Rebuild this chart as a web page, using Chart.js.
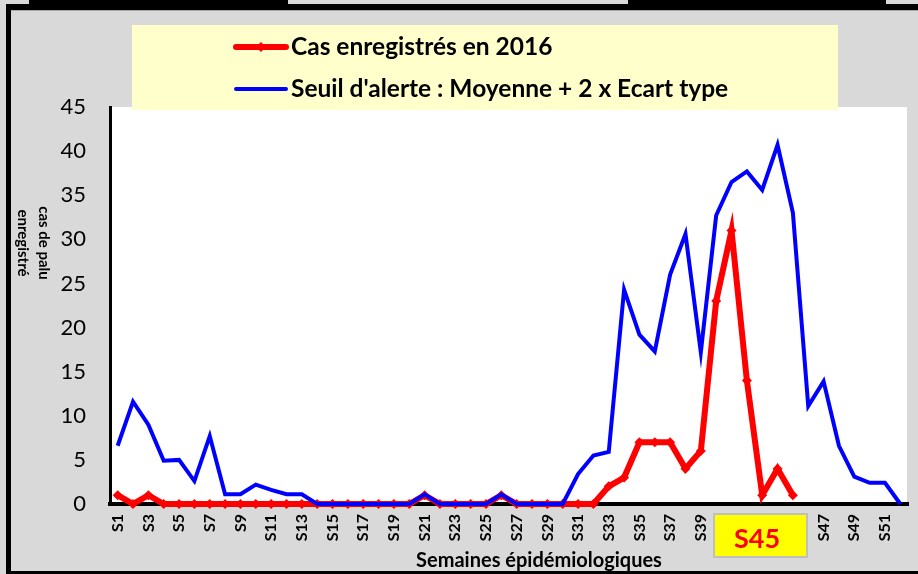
<!DOCTYPE html>
<html>
<head>
<meta charset="utf-8">
<script src="https://cdn.jsdelivr.net/npm/chart.js@4.4.0/dist/chart.umd.min.js"></script>
<style>
    html, body { margin: 0; padding: 0; background: #fff; }
</style>
</head>
<body>
<canvas id="paluChart" width="918" height="574"></canvas>
<script>
// Semaines épidémiologiques
const semaines = ['S1', 'S2', 'S3', 'S4', 'S5', 'S6', 'S7', 'S8', 'S9', 'S10',
    'S11', 'S12', 'S13', 'S14', 'S15', 'S16', 'S17', 'S18', 'S19', 'S20',
    'S21', 'S22', 'S23', 'S24', 'S25', 'S26', 'S27', 'S28', 'S29', 'S30',
    'S31', 'S32', 'S33', 'S34', 'S35', 'S36', 'S37', 'S38', 'S39', 'S40',
    'S41', 'S42', 'S43', 'S44', 'S45', 'S46', 'S47', 'S48', 'S49', 'S50',
    'S51', 'S52'];

// Cas enregistrés en 2016 (jusqu'à S45)
const cas2016 = [1, 0, 1, 0, 0, 0, 0, 0, 0, 0,
    0, 0, 0, 0, 0, 0, 0, 0, 0, 0,
    1, 0, 0, 0, 0, 1, 0, 0, 0, 0,
    0, 0, 2, 3, 7, 7, 7, 4, 6, 23,
    31, 14, 1, 4, 1, null, null, null, null, null,
    null, null];

// Seuil d'alerte : moyenne + 2 x écart type
const seuilAlerte = [6.6, 11.6, 9.0, 4.9, 5.0, 2.6, 7.7, 1.1, 1.1, 2.2,
    1.6, 1.1, 1.1, 0, 0, 0, 0, 0, 0, 0,
    1.1, 0, 0, 0, 0, 1.1, 0, 0, 0, 0,
    3.4, 5.5, 5.9, 24.3, 19.2, 17.3, 26.0, 30.6, 17.2, 32.7,
    36.5, 37.7, 35.6, 40.7, 33.0, 11.1, 13.9, 6.6, 3.1, 2.4,
    2.4, 0];

const yMax = 45;
const yStep = 5;
const semaineCourante = 'S45';
const titreY = ['cas de palu', 'enregistré'];
const titreX = 'Semaines épidémiologiques';

const FONT = "Lato, 'Open Sans', sans-serif";

// fond gris, cadre noir, zone de tracé blanche
const fondPlugin = {
    id: 'fond',
    beforeDraw(chart) {
        const c = chart.ctx;
        const a = chart.chartArea;
        c.save();
        c.fillStyle = '#d9d9d9';
        c.fillRect(0, 0, chart.width, chart.height);
        c.fillStyle = '#ffffff';
        c.fillRect(a.left, a.top, a.right - a.left - 1, a.bottom - a.top);
        // cadre
        c.fillStyle = '#000000';
        c.fillRect(6, 4, 912, 6);
        c.fillRect(29, 0, 259, 4);
        c.fillRect(628, 0, 258, 4);
        c.fillRect(6, 4, 5, 570);
        c.fillRect(6, 571, 912, 3);
        c.fillStyle = '#a6a6a6';
        c.fillRect(11, 10, 907, 1);
        c.restore();
    }
};

// légende, titres des axes, encadré de la semaine courante
const decorPlugin = {
    id: 'decor',
    afterDraw(chart) {
        const c = chart.ctx;
        const ds = chart.data.datasets;
        c.save();

        // légende
        c.fillStyle = '#ffffcc';
        c.fillRect(132, 25, 706, 85);
        c.lineCap = 'round';
        const items = [
            { y: 47, ds: ds[0] },
            { y: 89, ds: ds[1] }
        ];
        items.forEach(it => {
            c.strokeStyle = it.ds.borderColor;
            c.lineWidth = it.ds.borderWidth;
            c.beginPath();
            c.moveTo(236, it.y);
            c.lineTo(286, it.y);
            c.stroke();
            if (it.ds.pointRadius > 0) {
                c.fillStyle = it.ds.borderColor;
                c.beginPath();
                c.moveTo(261, it.y - 5);
                c.lineTo(266, it.y);
                c.lineTo(261, it.y + 5);
                c.lineTo(256, it.y);
                c.closePath();
                c.fill();
            }
            c.fillStyle = '#000';
            c.font = 'bold 24.5px ' + FONT;
            c.textAlign = 'left';
            c.textBaseline = 'middle';
            c.fillText(it.ds.label, 291, it.y);
        });

        // titre axe Y (deux lignes, tourné)
        c.fillStyle = '#000';
        c.font = 'bold 15px ' + FONT;
        c.textAlign = 'center';
        c.textBaseline = 'middle';
        c.translate(44, 243);
        c.rotate(Math.PI / 2);
        c.fillText(titreY[0], 0, 0);
        c.fillText(titreY[1], 0, 21);
        c.setTransform(1, 0, 0, 1, 0, 0);

        // titre axe X
        c.font = 'bold 20px ' + FONT;
        c.fillText(titreX, 539, 561);

        // encadré S45
        c.fillStyle = '#ffff00';
        c.fillRect(714, 514, 93, 43);
        c.strokeStyle = '#bfbfbf';
        c.lineWidth = 2;
        c.strokeRect(714, 514, 93, 43);
        c.fillStyle = '#ff0000';
        c.font = 'bold 27px ' + FONT;
        c.fillText(semaineCourante, 757, 539);

        c.restore();
    }
};

const ctx = document.getElementById('paluChart').getContext('2d');
new Chart(ctx, {
    type: 'line',
    data: {
        labels: semaines,
        datasets: [{
            label: 'Cas enregistrés en 2016',
            data: cas2016,
            borderColor: '#ff0000',
            backgroundColor: '#ff0000',
            borderWidth: 6,
            pointStyle: 'rectRot',
            pointRadius: 5,
            pointBorderWidth: 0,
            tension: 0,
            clip: false,
            order: 1
        }, {
            label: "Seuil d'alerte : Moyenne + 2 x Ecart type",
            data: seuilAlerte,
            borderColor: '#0000ff',
            backgroundColor: '#0000ff',
            borderWidth: 4,
            pointRadius: 0,
            tension: 0,
            clip: false,
            order: 0
        }]
    },
    options: {
        responsive: false,
        animation: false,
        devicePixelRatio: 1,
        layout: {
            padding: { top: 107, right: 10, left: 0, bottom: 0 }
        },
        plugins: {
            legend: { display: false },
            tooltip: { enabled: false }
        },
        scales: {
            x: {
                offset: true,
                grid: { display: false, drawTicks: false },
                border: { display: true, color: '#000', width: 4 },
                ticks: {
                    autoSkip: false,
                    minRotation: 90,
                    maxRotation: 90,
                    padding: 10,
                    color: '#000',
                    font: { family: FONT, size: 16, weight: 'bold' },
                    callback: function(value, index) {
                        return index % 2 === 0 ? semaines[index] : '';
                    }
                },
                afterFit: function(scale) {
                    scale.height = 70;
                    scale.paddingLeft = 0;
                    scale.paddingRight = 0;
                }
            },
            y: {
                min: 0,
                max: yMax,
                grid: { display: false, drawTicks: false },
                border: { display: true, color: '#000', width: 3 },
                ticks: {
                    stepSize: yStep,
                    padding: 24,
                    color: '#000',
                    font: { family: FONT, size: 22 }
                },
                afterFit: function(scale) { scale.width = 110; }
            }
        }
    },
    plugins: [fondPlugin, decorPlugin]
});
</script>
</body>
</html>
